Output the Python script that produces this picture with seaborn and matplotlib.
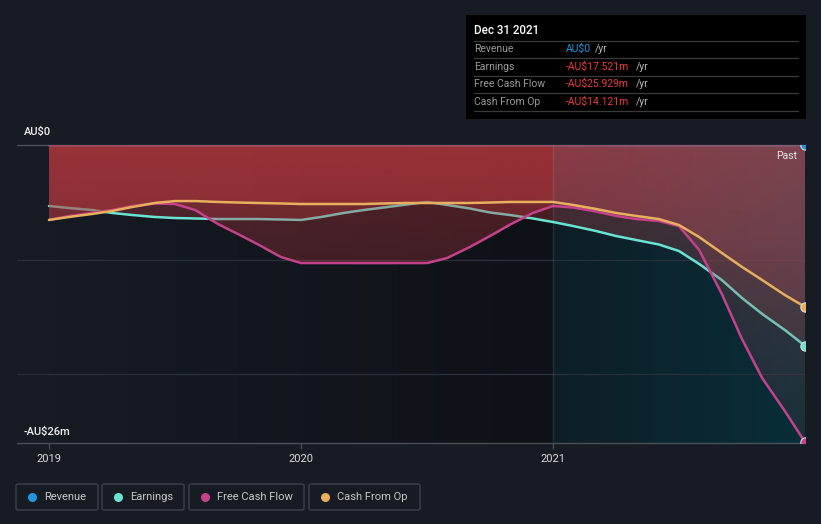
import numpy as np
import pandas as pd
import matplotlib
matplotlib.use("Agg")
import matplotlib.pyplot as plt
import seaborn as sns
from matplotlib.patches import Rectangle, FancyBboxPatch
from matplotlib.lines import Line2D

# ---------------- data (AU$ millions, monthly readings) ----------------
dates = [2019.00, 2019.08, 2019.17, 2019.25, 2019.33, 2019.42, 2019.50, 2019.58,
         2019.67, 2019.75, 2019.83, 2019.92, 2020.00, 2020.08, 2020.17, 2020.25,
         2020.33, 2020.42, 2020.50, 2020.58, 2020.67, 2020.75, 2020.83, 2020.92,
         2021.00, 2021.08, 2021.17, 2021.25, 2021.33, 2021.42, 2021.50, 2021.58,
         2021.67, 2021.75, 2021.83, 2021.92, 2022.00]
revenue = [0, 0, 0, 0, 0, 0, 0, 0, 0, 0, 0, 0, 0, 0, 0, 0, 0, 0, 0, 0, 0, 0, 0,
           0, 0, 0, 0, 0, 0, 0, 0, 0, 0, 0, 0, 0, 0]
earnings = [-5.32, -5.50, -5.67, -5.93, -6.11, -6.28, -6.37, -6.41, -6.46, -6.46,
            -6.46, -6.50, -6.54, -6.28, -5.93, -5.67, -5.45, -5.19, -4.97, -5.23,
            -5.54, -5.89, -6.11, -6.41, -6.72, -7.07, -7.50, -7.94, -8.29, -8.68,
            -9.25, -10.38, -11.78, -13.35, -14.74, -16.14, -17.521]
fcf = [-6.54, -6.19, -5.93, -5.67, -5.32, -5.10, -5.15, -5.67, -6.89, -7.77,
       -8.68, -9.77, -10.30, -10.30, -10.30, -10.30, -10.30, -10.30, -10.30, -9.86,
       -8.90, -7.94, -6.94, -5.93, -5.32, -5.45, -5.80, -6.19, -6.46, -6.63,
       -7.07, -9.16, -13.00, -16.93, -20.33, -23.21, -25.929]
cfo = [-6.54, -6.28, -6.02, -5.76, -5.41, -5.06, -4.89, -4.89, -4.97, -5.02,
       -5.06, -5.10, -5.15, -5.15, -5.15, -5.15, -5.10, -5.06, -5.06, -5.06,
       -5.06, -5.02, -4.97, -4.97, -4.97, -5.23, -5.58, -5.93, -6.19, -6.46,
       -6.98, -8.03, -9.42, -10.64, -11.78, -13.09, -14.121]

series_names = ["Revenue", "Earnings", "Free Cash Flow", "Cash From Op"]
series_colors = ["#2394df", "#6be3d3", "#c4428c", "#e8b05e"]
tick_years = [2019, 2020, 2021]
tick_labels = ["2019", "2020", "2021"]
y_labels = ["AU$0", "-AU$26m"]
tooltip_title = "Dec 31 2021"
tooltip_values = ["AU$0", "-AU$17.521m", "-AU$25.929m", "-AU$14.121m"]

df = pd.DataFrame({"date": dates, "Revenue": revenue, "Earnings": earnings,
                   "Free Cash Flow": fcf, "Cash From Op": cfo})

# ---------------- figure ----------------
W, H = 821, 524
BG = "#161b24"
sns.set_theme(style="dark")
plt.rcParams["font.family"] = ["Roboto", "DejaVu Sans"]

fig = plt.figure(figsize=(W / 100, H / 100), dpi=100, facecolor=BG)


def fx(x):
    return x / W


def fy(y):
    return 1 - y / H


ax = fig.add_axes([fx(17), fy(443), fx(805) - fx(17), fy(145) - fy(443)])
ax.set_facecolor("none")
ax.patch.set_visible(False)
for s in ax.spines.values():
    s.set_visible(False)

X0, X1, Y0, Y1 = 2018.873, 2022.0, -26.0, 0.0
PX0, PX1 = 2019.0, 2022.0

# background gradient of the plot area
nx, ny = 600, 300
xs = np.linspace(PX0, PX1, nx)
bg = np.zeros((ny, nx, 4))
left_a = np.array([22, 27, 36]) / 255
left_b = np.array([14, 17, 23]) / 255
right_a = np.array([14, 30, 38]) / 255
right_b = np.array([8, 46, 56]) / 255
for i, xv in enumerate(xs):
    if xv < 2021:
        t = (xv - PX0) / (2021 - PX0)
        c = left_a + (left_b - left_a) * t
    else:
        t = (xv - 2021) / (PX1 - 2021)
        c = right_a + (right_b - right_a) * t
    bg[:, i, :3] = c
    bg[:, i, 3] = 1
ax.imshow(bg, extent=[PX0, PX1, Y0, Y1], origin="upper", aspect="auto",
          zorder=0.5, interpolation="bilinear")

# grid & frame lines
for gy in (-10, -20):
    ax.axhline(gy, color="#2a303a", lw=0.9, zorder=1)
ax.axhline(0, color="#4a505c", lw=1.0, zorder=1, clip_on=False)
ax.axhline(-26, color="#4a505a", lw=1.0, zorder=12, clip_on=False)

# fill gradient image (red, fading with depth; muted in last year)
fill = np.zeros((ny, nx, 4))
ys = np.linspace(0, -26, ny)
alpha_col = 0.40 - 0.29 * (-ys / 26)
red_left = np.array([189, 58, 63]) / 255
red_r0 = np.array([174, 68, 79]) / 255
red_r1 = np.array([157, 77, 87]) / 255
for i, xv in enumerate(xs):
    if xv < 2021:
        c = red_left
    else:
        t = (xv - 2021) / (PX1 - 2021)
        c = red_r0 + (red_r1 - red_r0) * t
    fill[:, i, :3] = c
fill[:, :, 3] = alpha_col[:, None]

# series: area then line
sns.lineplot(data=df, x="date", y="Revenue", color=series_colors[0], lw=1.8,
             ax=ax, zorder=2, legend=False)
z = 3
for name, col in zip(series_names[1:], series_colors[1:]):
    poly = ax.fill_between(df["date"], 0, df[name], facecolor="none",
                           edgecolor="none", zorder=z)
    img = ax.imshow(fill, extent=[PX0, PX1, Y0, Y1], origin="upper",
                    aspect="auto", zorder=z, interpolation="bilinear")
    img.set_clip_path(poly.get_paths()[0], transform=ax.transData)
    sns.lineplot(data=df, x="date", y=name, color=col, lw=1.8, ax=ax,
                 zorder=z + 1, legend=False)
    z += 2

ax.axvline(2021, color=(1, 1, 1, 0.09), lw=1, zorder=10)

# end markers
for name, col in zip(series_names, series_colors):
    ax.scatter([df["date"].iloc[-1]], [df[name].iloc[-1]], s=45, color=col,
               edgecolor="#dddddd", linewidth=0.8, zorder=20, clip_on=True)

ax.set_xlim(X0, X1)
ax.set_ylim(Y0, Y1)
ax.set_xlabel("")
ax.set_ylabel("")
ax.set_yticks([])
ax.set_xticks(tick_years)
ax.set_xticklabels(tick_labels)
ax.tick_params(axis="x", direction="out", length=4, width=1, color="#474c56",
               labelcolor="#dcdcdc", labelsize=8, pad=4, bottom=True)
ax.grid(False)

# y labels
fig.text(fx(24), fy(132), y_labels[0], color="#f0f0f0", fontsize=8,
         fontweight="medium", ha="left", va="center")
fig.text(fx(24), fy(432), y_labels[1], color="#f0f0f0", fontsize=8,
         fontweight="medium", ha="left", va="center")
fig.text(fx(797), fy(156), "Past", color="#e8e8e8", fontsize=7.5,
         ha="right", va="center")

# tooltip
fig.patches.append(Rectangle((fx(466), fy(119)), fx(806) - fx(466),
                             fy(15) - fy(119), transform=fig.transFigure,
                             facecolor="#000000", edgecolor="none", zorder=30))
fig.text(fx(474), fy(31), tooltip_title, color="#ffffff", fontsize=8.3,
         fontweight="medium", ha="left", va="center", zorder=31)
for ly in (41, 58.3, 76, 93.3, 111.3):
    fig.lines.append(Line2D([fx(474), fx(798)], [fy(ly), fy(ly)],
                            transform=fig.transFigure, color="#3a3a3a",
                            lw=0.9, zorder=31))
row_y = [49.3, 66.7, 84.3, 101.7]
val_colors = ["#2394df", "#ec3a3a", "#ec3a3a", "#ec3a3a"]
yr_x = [595, 636, 636, 636]
for nm, val, vc, ry, yx in zip(series_names, tooltip_values, val_colors, row_y, yr_x):
    fig.text(fx(474), fy(ry), nm, color="#9a9a9a", fontsize=7.5, ha="left",
             va="center", zorder=31)
    fig.text(fx(566), fy(ry), val, color=vc, fontsize=7.5, ha="left",
             va="center", zorder=31)
    fig.text(fx(yx), fy(ry), "/yr", color="#b8b8b8", fontsize=7.5, ha="left",
             va="center", zorder=31)

# legend
boxes = [(16, 98), (102, 184), (189, 304), (309, 420)]
for (bx0, bx1), nm, col in zip(boxes, series_names, series_colors):
    fig.patches.append(FancyBboxPatch((fx(bx0), fy(510)), fx(bx1) - fx(bx0),
                                      fy(484) - fy(510),
                                      boxstyle="round,pad=0,rounding_size=0.003",
                                      transform=fig.transFigure,
                                      facecolor="none", edgecolor="#3c424d",
                                      lw=1.0, zorder=30))
    fig.lines.append(Line2D([fx(bx0 + 16)], [fy(497)], transform=fig.transFigure,
                            marker="o", markersize=6.5, color=col,
                            markeredgewidth=0, linestyle="none", zorder=31))
    fig.text(fx(bx0 + 28), fy(497), nm, color="#c8c8c8", fontsize=8,
             ha="left", va="center", zorder=31)

fig.savefig("out.png", dpi=100, facecolor=BG)
